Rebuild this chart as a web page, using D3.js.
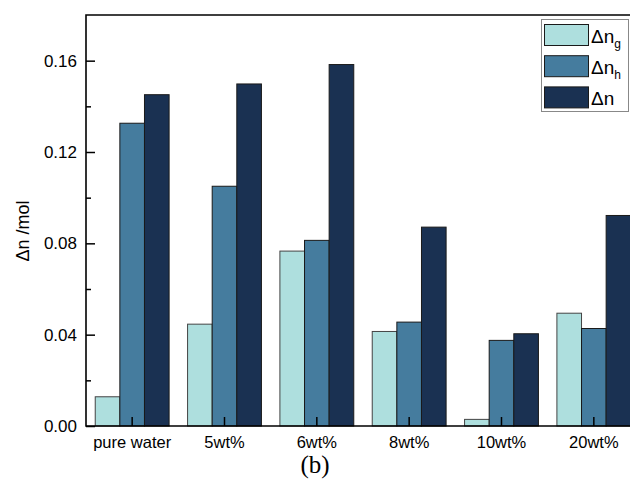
<!DOCTYPE html>
<html><head><meta charset="utf-8">
<script src="https://cdn.jsdelivr.net/npm/d3@7"></script>
<style>html,body{margin:0;padding:0;background:#fff;overflow:hidden}</style>
</head><body>
<svg id="c" width="630" height="479"></svg>
<script>
const categories = ["pure water","5wt%","6wt%","8wt%","10wt%","20wt%"];
const seriesNames = ["ng","nh","n"];
const dng = [0.0128,0.0446,0.0766,0.0414,0.0029,0.0494];
const dnh = [0.1326,0.1050,0.0813,0.0455,0.0375,0.0427];
const dn  = [0.1451,0.1498,0.1583,0.0871,0.0404,0.0922];
const yTicks = [0,0.04,0.08,0.12,0.16];
const yMinor = [0.02,0.06,0.10,0.14];
const colors = ["#AEDFDE","#457C9E","#1A3152"];
const values = [dng,dnh,dn];

const svg = d3.select("#c");
const L=86,T=15,R=640,B=426;
const x = d3.scaleBand().domain(categories).range([L,R]).paddingInner(0.2).paddingOuter(0.1);
const xs = d3.scaleBand().domain(seriesNames).range([0,x.bandwidth()]).padding(0);
const y = d3.scaleLinear().domain([0,0.18]).range([B,T]);

// bars
seriesNames.forEach((s,si)=>{
  svg.append("g").selectAll("rect").data(categories).join("rect")
    .attr("x",d=>x(d)+xs(s))
    .attr("y",(d,i)=>y(values[si][i]))
    .attr("width",xs.bandwidth())
    .attr("height",(d,i)=>y(0)-y(values[si][i]))
    .attr("fill",colors[si])
    .attr("stroke",si===0?"#444":"#1a1a1a")
    .attr("stroke-width",1);
});

// axes
const font = "'Liberation Sans', Arial, sans-serif";
const yAxis = d3.axisLeft(y).tickValues(yTicks).tickFormat(d3.format(".2f")).tickSizeInner(-9).tickSizeOuter(0).tickPadding(9);
const gy = svg.append("g").attr("transform",`translate(${L},0)`).call(yAxis);
gy.select(".domain").remove();
gy.selectAll("line").attr("stroke","#000").attr("stroke-width",1.5);
gy.selectAll("text").attr("font-family",font).attr("font-size",17).attr("fill","#000");
const yAxisMinor = d3.axisLeft(y).tickValues(yMinor).tickFormat("").tickSizeInner(-5).tickSizeOuter(0);
const gym = svg.append("g").attr("transform",`translate(${L},0)`).call(yAxisMinor);
gym.select(".domain").remove();
gym.selectAll("line").attr("stroke","#000").attr("stroke-width",1.5);

const xAxis = d3.axisBottom(x).tickSizeInner(-9).tickSizeOuter(0).tickPadding(10);
const gx = svg.append("g").attr("transform",`translate(0,${B})`).call(xAxis);
gx.select(".domain").remove();
gx.selectAll("line").attr("stroke","#000").attr("stroke-width",1.5);
gx.selectAll("text").attr("font-family",font).attr("font-size",16.5).attr("fill","#000");

// frame
svg.append("path").attr("d",`M${R},${T}H${L}V${B}H${R}`).attr("fill","none").attr("stroke","#000").attr("stroke-width",1.6);

// y label
svg.append("text").attr("transform","translate(29,231) rotate(-90)").attr("text-anchor","middle")
  .attr("font-family",font).attr("font-size",18).text("Δn /mol");

// caption
svg.append("text").attr("x",315).attr("y",473).attr("text-anchor","middle")
  .attr("font-family","'Liberation Serif','Times New Roman',serif").attr("font-size",25).text("(b)");

// legend
const lg = svg.append("g");
lg.append("rect").attr("x",541.5).attr("y",19.5).attr("width",87).attr("height",92)
  .attr("fill","#fff").attr("stroke","#888").attr("stroke-width",1);
const subs = ["g","h",""];
seriesNames.forEach((s,i)=>{
  const yy = 24.5 + i*31.2;
  lg.append("rect").attr("x",544.5).attr("y",yy).attr("width",44).attr("height",21)
    .attr("fill",colors[i]).attr("stroke","#1a1a1a").attr("stroke-width",1);
  const t = lg.append("text").attr("x",591).attr("y",yy+18).attr("font-family",font).attr("font-size",19).text("Δn");
  if(subs[i]) t.append("tspan").attr("font-size",12).attr("dy",5).text(subs[i]);
});
</script>
</body></html>
